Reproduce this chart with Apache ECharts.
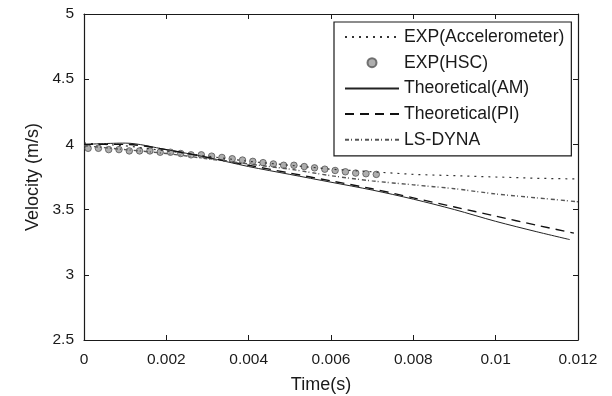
<!DOCTYPE html>
<html>
<head>
<meta charset="utf-8">
<script src="https://cdn.jsdelivr.net/npm/echarts@6/dist/echarts.min.js"></script>
<style>
  html, body { margin: 0; padding: 0; background: #fff; }
  #chart { width: 612px; height: 396px; }
</style>
</head>
<body>
<div id="chart"></div>
<script>
// time points for the curves (s)
const tLine = [0, 0.001, 0.002, 0.003, 0.004, 0.005, 0.006, 0.007, 0.008, 0.009, 0.010, 0.011, 0.012];
const accel = [4.01, 3.99, 3.95, 3.91, 3.87, 3.84, 3.81, 3.79, 3.77, 3.76, 3.75, 3.74, 3.735];
const lsDyna = [3.99, 3.96, 3.93, 3.89, 3.85, 3.81, 3.76, 3.72, 3.69, 3.66, 3.62, 3.59, 3.56];

const tAM = [0, 0.001, 0.002, 0.003, 0.004, 0.005, 0.006, 0.007, 0.008, 0.009, 0.010, 0.011, 0.0118];
const theoAM = [4.00, 4.01, 3.96, 3.90, 3.83, 3.77, 3.71, 3.65, 3.58, 3.50, 3.41, 3.33, 3.27];
const tPI = [0, 0.001, 0.002, 0.003, 0.004, 0.005, 0.006, 0.007, 0.008, 0.009, 0.010, 0.011, 0.0119];
const theoPI = [4.00, 4.00, 3.96, 3.90, 3.84, 3.78, 3.72, 3.66, 3.59, 3.52, 3.45, 3.38, 3.32];

// high speed camera points
const tHSC = [0.0001, 0.00035, 0.0006, 0.00085, 0.0011, 0.00135, 0.0016, 0.00185, 0.0021, 0.00235,
  0.0026, 0.00285, 0.0031, 0.00335, 0.0036, 0.00385, 0.0041, 0.00435, 0.0046, 0.00485,
  0.0051, 0.00535, 0.0056, 0.00585, 0.0061, 0.00635, 0.0066, 0.00685, 0.0071];
const hsc = [3.97, 3.97, 3.96, 3.96, 3.95, 3.95, 3.95, 3.94, 3.94, 3.93,
  3.92, 3.92, 3.91, 3.90, 3.89, 3.88, 3.87, 3.86, 3.85, 3.84,
  3.84, 3.83, 3.82, 3.81, 3.80, 3.79, 3.78, 3.775, 3.77];

const xTicks = { min: 0, max: 0.012, interval: 0.002 };
const yTicks = { min: 2.5, max: 5, interval: 0.5 };
const legendNames = ['EXP(Accelerometer)', 'EXP(HSC)', 'Theoretical(AM)', 'Theoretical(PI)', 'LS-DYNA'];

function pairs(xs, ys) {
  return xs.map((x, i) => [x, ys[i]]);
}

const ink = '#1a1a1a';
const font = 'Liberation Sans, Arial, sans-serif';

const chart = echarts.init(document.getElementById('chart'));

const axisBase = {
  type: 'value',
  axisLine: { show: true, onZero: false, lineStyle: { color: ink, width: 1.2 } },
  axisTick: { show: true, inside: true, length: 5, lineStyle: { color: ink } },
  splitLine: { show: false }
};

chart.setOption({
  animation: false,
  backgroundColor: '#fff',
  grid: { left: 84, top: 14, right: 34, bottom: 56, outerBoundsMode: 'none' },
  xAxis: [
    Object.assign({}, axisBase, {
      min: xTicks.min, max: xTicks.max, interval: xTicks.interval,
      position: 'bottom',
      name: 'Time(s)', nameLocation: 'middle', nameGap: 36,
      nameTextStyle: { color: ink, fontSize: 18, fontFamily: font, padding: [0, 20, 0, 0] },
      axisLabel: {
        color: ink, fontSize: 15.5, fontFamily: font, margin: 12,
        formatter: v => String(parseFloat(v.toFixed(4)))
      }
    }),
    Object.assign({}, axisBase, {
      min: xTicks.min, max: xTicks.max, interval: xTicks.interval,
      position: 'top', axisLabel: { show: false }
    })
  ],
  yAxis: [
    Object.assign({}, axisBase, {
      min: yTicks.min, max: yTicks.max, interval: yTicks.interval,
      position: 'left',
      name: 'Velocity (m/s)', nameLocation: 'middle', nameGap: 42,
      nameTextStyle: { color: ink, fontSize: 18, fontFamily: font },
      axisLabel: { color: ink, fontSize: 15.5, fontFamily: font, margin: 10 }
    }),
    Object.assign({}, axisBase, {
      min: yTicks.min, max: yTicks.max, interval: yTicks.interval,
      position: 'right', axisLabel: { show: false }
    })
  ],
  legend: {
    orient: 'vertical',
    left: 334, top: 22,
    padding: [6, 7, 7, 10],
    itemGap: 7.7,
    itemWidth: 54, itemHeight: 9,
    borderColor: ink, borderWidth: 1.2, borderRadius: 0,
    backgroundColor: '#fff',
    textStyle: { color: ink, fontSize: 17.6, fontFamily: font },
    data: legendNames.map(n => n === 'EXP(HSC)'
      ? { name: n }
      : { name: n, itemStyle: { opacity: 0 } })
  },
  series: [
    {
      name: 'EXP(Accelerometer)', type: 'line', symbol: 'none',
      data: pairs(tLine, accel),
      lineStyle: { color: '#333', width: 1.2, type: [2, 5] },
      itemStyle: { color: '#333' }
    },
    {
      name: 'EXP(HSC)', type: 'scatter', symbol: 'circle', symbolSize: 6.5,
      data: pairs(tHSC, hsc),
      itemStyle: { color: '#9a9a9a', borderColor: '#555', borderWidth: 1 }
    },
    {
      name: 'Theoretical(AM)', type: 'line', symbol: 'none', smooth: 0.3,
      data: pairs(tAM, theoAM),
      lineStyle: { color: '#222', width: 1 },
      itemStyle: { color: '#222' }
    },
    {
      name: 'Theoretical(PI)', type: 'line', symbol: 'none', smooth: 0.3,
      data: pairs(tPI, theoPI),
      lineStyle: { color: '#111', width: 1.4, type: [9, 6] },
      itemStyle: { color: '#111' }
    },
    {
      name: 'LS-DYNA', type: 'line', symbol: 'none', smooth: 0.3,
      data: pairs(tLine, lsDyna),
      lineStyle: { color: '#555', width: 1.4, type: [4, 2, 1, 3] },
      itemStyle: { color: '#555' }
    }
  ]
});
</script>
</body>
</html>
